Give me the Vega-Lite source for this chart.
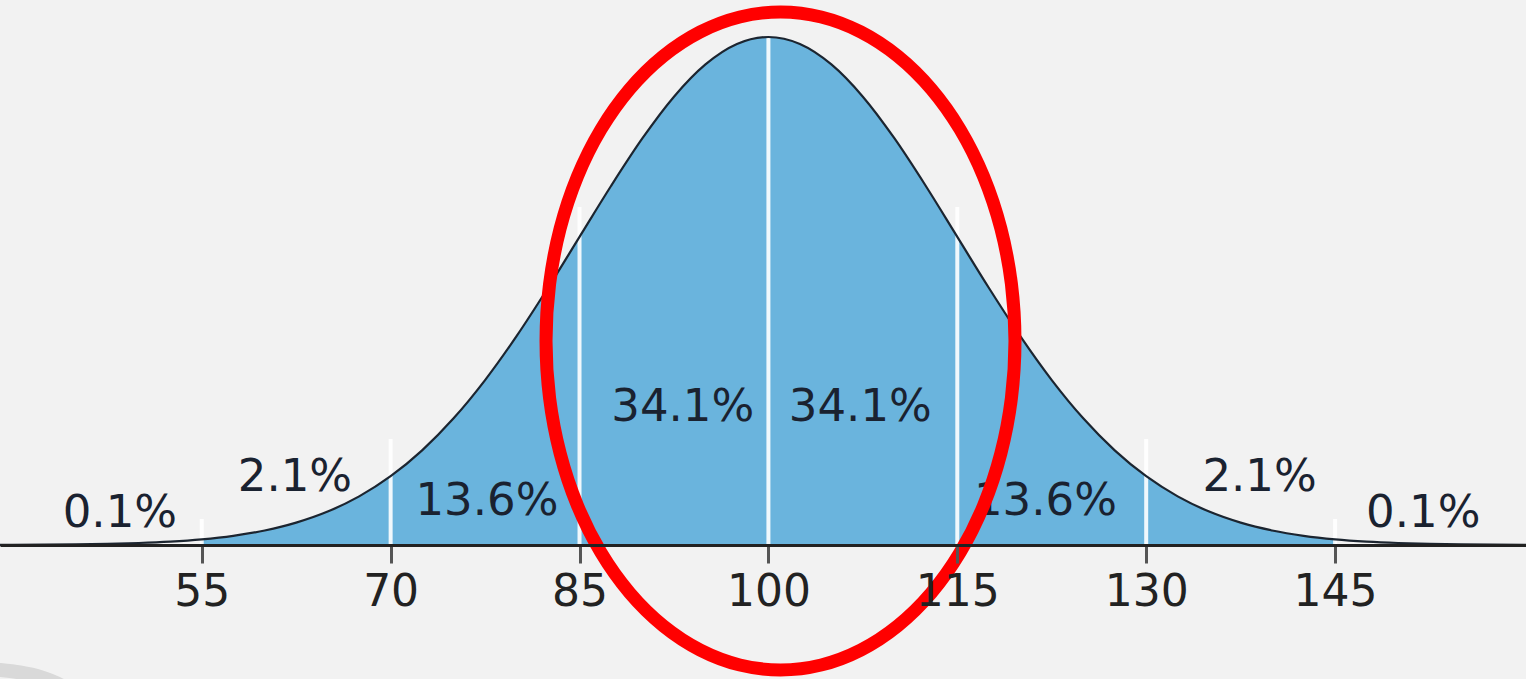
{
  "$schema": "https://vega.github.io/schema/vega-lite/v6.json",
  "width": 1526,
  "height": 679,
  "autosize": {"type": "none"},
  "padding": 0,
  "background": "#f2f2f2",
  "config": {"view": {"stroke": null}},
  "datasets": {
    "curve": [
      {"x": 37.5, "y": 0.00017}, {"x": 40, "y": 0.00034}, {"x": 42.5, "y": 0.00064}, {"x": 45, "y": 0.0012},
      {"x": 47.5, "y": 0.00219}, {"x": 50, "y": 0.00387}, {"x": 52.5, "y": 0.00665}, {"x": 55, "y": 0.01111},
      {"x": 57.5, "y": 0.01807}, {"x": 60, "y": 0.02857}, {"x": 62.5, "y": 0.04394}, {"x": 65, "y": 0.06571},
      {"x": 67.5, "y": 0.09563}, {"x": 70, "y": 0.13534}, {"x": 72.5, "y": 0.18627}, {"x": 75, "y": 0.24935},
      {"x": 77.5, "y": 0.32465}, {"x": 80, "y": 0.41111}, {"x": 82.5, "y": 0.50636}, {"x": 85, "y": 0.60653},
      {"x": 87.5, "y": 0.70667}, {"x": 90, "y": 0.80074}, {"x": 92.5, "y": 0.8825}, {"x": 95, "y": 0.94596},
      {"x": 97.5, "y": 0.98621}, {"x": 100, "y": 1.0}, {"x": 102.5, "y": 0.98621}, {"x": 105, "y": 0.94596},
      {"x": 107.5, "y": 0.8825}, {"x": 110, "y": 0.80074}, {"x": 112.5, "y": 0.70667}, {"x": 115, "y": 0.60653},
      {"x": 117.5, "y": 0.50636}, {"x": 120, "y": 0.41111}, {"x": 122.5, "y": 0.32465}, {"x": 125, "y": 0.24935},
      {"x": 127.5, "y": 0.18627}, {"x": 130, "y": 0.13534}, {"x": 132.5, "y": 0.09563}, {"x": 135, "y": 0.06571},
      {"x": 137.5, "y": 0.04394}, {"x": 140, "y": 0.02857}, {"x": 142.5, "y": 0.01807}, {"x": 145, "y": 0.01111},
      {"x": 147.5, "y": 0.00665}, {"x": 150, "y": 0.00387}, {"x": 152.5, "y": 0.00219}, {"x": 155, "y": 0.0012},
      {"x": 157.5, "y": 0.00064}, {"x": 160, "y": 0.00034}, {"x": 162.5, "y": 0.00017}
    ],
    "dividers": [
      {"x": 55, "top": 0.0512}, {"x": 70, "top": 0.2087}, {"x": 85, "top": 0.6654}, {"x": 100, "top": 1.0},
      {"x": 115, "top": 0.6654}, {"x": 130, "top": 0.2087}, {"x": 145, "top": 0.0512}
    ],
    "labels": [
      {"label": "0.1%", "x": 48.5, "y": 0.0354},
      {"label": "2.1%", "x": 62.4, "y": 0.1063},
      {"label": "13.6%", "x": 77.65, "y": 0.0591},
      {"label": "34.1%", "x": 93.2, "y": 0.2441},
      {"label": "34.1%", "x": 107.3, "y": 0.2441},
      {"label": "13.6%", "x": 122.0, "y": 0.0591},
      {"label": "2.1%", "x": 139.0, "y": 0.1063},
      {"label": "0.1%", "x": 152.0, "y": 0.0354}
    ],
    "ellipse": [
      {"i": 0, "x": 119.58, "y": 0.4016}, {"i": 1, "x": 119.297, "y": 0.514}, {"i": 2, "x": 118.457, "y": 0.6231},
      {"i": 3, "x": 117.085, "y": 0.7254}, {"i": 4, "x": 115.223, "y": 0.8179}, {"i": 5, "x": 112.929, "y": 0.8977},
      {"i": 6, "x": 110.27, "y": 0.9624}, {"i": 7, "x": 107.328, "y": 1.0101}, {"i": 8, "x": 104.192, "y": 1.0394},
      {"i": 9, "x": 100.96, "y": 1.0492}, {"i": 10, "x": 97.728, "y": 1.0394}, {"i": 11, "x": 94.592, "y": 1.0101},
      {"i": 12, "x": 91.65, "y": 0.9624}, {"i": 13, "x": 88.991, "y": 0.8977}, {"i": 14, "x": 86.697, "y": 0.8179},
      {"i": 15, "x": 84.835, "y": 0.7254}, {"i": 16, "x": 83.463, "y": 0.6231}, {"i": 17, "x": 82.623, "y": 0.514},
      {"i": 18, "x": 82.34, "y": 0.4016}, {"i": 19, "x": 82.623, "y": 0.2892}, {"i": 20, "x": 83.463, "y": 0.1801},
      {"i": 21, "x": 84.835, "y": 0.0778}, {"i": 22, "x": 86.697, "y": -0.0147}, {"i": 23, "x": 88.991, "y": -0.0945},
      {"i": 24, "x": 91.65, "y": -0.1592}, {"i": 25, "x": 94.592, "y": -0.2069}, {"i": 26, "x": 97.728, "y": -0.2362},
      {"i": 27, "x": 100.96, "y": -0.246}, {"i": 28, "x": 104.192, "y": -0.2362}, {"i": 29, "x": 107.328, "y": -0.2069},
      {"i": 30, "x": 110.27, "y": -0.1592}, {"i": 31, "x": 112.929, "y": -0.0945}, {"i": 32, "x": 115.223, "y": -0.0147},
      {"i": 33, "x": 117.085, "y": 0.0778}, {"i": 34, "x": 118.457, "y": 0.1801}, {"i": 35, "x": 119.297, "y": 0.2892}
    ],
    "arc": [
      {"i": 0, "x": 35.8, "y": -0.2421}, {"i": 1, "x": 37.39, "y": -0.2431}, {"i": 2, "x": 38.98, "y": -0.2461},
      {"i": 3, "x": 40.57, "y": -0.251}, {"i": 4, "x": 42.16, "y": -0.2598}, {"i": 5, "x": 43.74, "y": -0.2756},
      {"i": 6, "x": 44.94, "y": -0.2953}
    ]
  },
  "layer": [
    {
      "data": {"name": "curve"},
      "transform": [{"filter": {"field": "x", "range": [55, 145]}}],
      "mark": {"type": "area", "color": "#6ab4dd", "interpolate": "monotone"},
      "encoding": {
        "x": {"field": "x", "type": "quantitative", "scale": {"domain": [38.98, 160.16], "nice": false, "zero": false},
          "axis": {"values": [55, 70, 85, 100, 115, 130, 145], "offset": -134, "zindex": 1, "grid": false, "title": null,
            "domainColor": "#222222", "domainWidth": 3, "tickColor": "#555555", "tickWidth": 3, "tickSize": 18,
            "labelFont": "DejaVu Sans", "labelFontSize": 44, "labelColor": "#222222", "labelPadding": 7}},
        "y": {"field": "y", "type": "quantitative", "scale": {"domain": [-0.2638, 1.0728], "nice": false, "zero": false}, "axis": null}
      }
    },
    {
      "data": {"name": "dividers"},
      "mark": {"type": "rule", "color": "#ffffff", "strokeWidth": 4, "opacity": 0.9},
      "encoding": {
        "x": {"field": "x", "type": "quantitative"},
        "y": {"field": "top", "type": "quantitative"},
        "y2": {"datum": 0}
      }
    },
    {
      "data": {"name": "curve"},
      "mark": {"type": "line", "color": "#1c2530", "strokeWidth": 2.2, "interpolate": "monotone"},
      "encoding": {
        "x": {"field": "x", "type": "quantitative"},
        "y": {"field": "y", "type": "quantitative"}
      }
    },
    {
      "data": {"name": "labels"},
      "mark": {"type": "text", "font": "DejaVu Sans", "fontSize": 45, "color": "#1a2230", "align": "center", "baseline": "alphabetic"},
      "encoding": {
        "x": {"field": "x", "type": "quantitative"},
        "y": {"field": "y", "type": "quantitative"},
        "text": {"field": "label"}
      }
    },
    {
      "data": {"name": "arc"},
      "mark": {"type": "line", "color": "#d9d9d9", "strokeWidth": 14, "interpolate": "monotone"},
      "encoding": {
        "x": {"field": "x", "type": "quantitative"},
        "y": {"field": "y", "type": "quantitative"},
        "order": {"field": "i", "type": "quantitative"}
      }
    },
    {
      "data": {"name": "ellipse"},
      "mark": {"type": "line", "color": "#ff0000", "strokeWidth": 13, "interpolate": "cardinal-closed"},
      "encoding": {
        "x": {"field": "x", "type": "quantitative"},
        "y": {"field": "y", "type": "quantitative"},
        "order": {"field": "i", "type": "quantitative"}
      }
    }
  ]
}
